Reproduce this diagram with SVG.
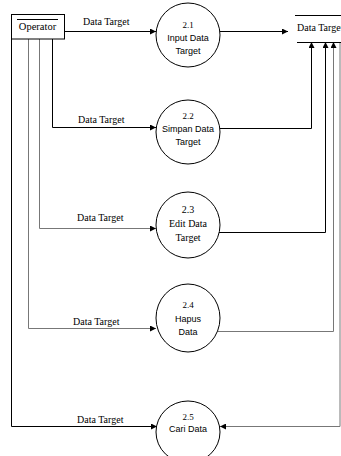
<svg xmlns="http://www.w3.org/2000/svg" width="341" height="456" viewBox="0 0 341 456">
<defs>
<marker id="ah" viewBox="0 0 6 6" refX="6" refY="3" markerWidth="6" markerHeight="6" markerUnits="userSpaceOnUse" orient="auto">
<path d="M0,0 L6,3 L0,6 z" fill="#000"/>
</marker>
</defs>
<style>
.ln{fill:none;stroke:#000;stroke-width:1}
.gr{fill:none;stroke:#777;stroke-width:1}
.p{fill:#fff;stroke:#000;stroke-width:1}
.s{font-family:"Liberation Sans",Arial,sans-serif;font-size:9px;fill:#000;text-anchor:middle}
.t{font-family:"Liberation Serif","Times New Roman",serif;font-size:10px;fill:#000;text-anchor:middle}
.lb{font-family:"Liberation Serif","Times New Roman",serif;font-size:10px;fill:#000}
</style>
<rect width="341" height="456" fill="#fff"/>
<g id="connectors">
<path class="ln" d="M65,31.5 H156" marker-end="url(#ah)"/>
<path class="ln" d="M52.5,39 V127.5 H156" marker-end="url(#ah)"/>
<path class="gr" d="M39.5,39 V228.5 H156" marker-end="url(#ah)"/>
<path class="gr" d="M28.5,39 V328.5 H156" marker-end="url(#ah)"/>
<path class="ln" d="M11.5,39 V426.5 H157" marker-end="url(#ah)"/>
<path class="ln" d="M220,31.5 H288" marker-end="url(#ah)"/>
<path class="ln" d="M220,128.5 H311.5 V42" marker-end="url(#ah)"/>
<path class="ln" d="M219,232.5 H325.5 V42" marker-end="url(#ah)"/>
<path class="gr" d="M218,331.5 H333.5 V42" marker-end="url(#ah)"/>
<path class="gr" d="M340,42 V426.5 H220" marker-end="url(#ah)"/>
<text class="lb" x="83" y="25">Data Target</text>
<text class="lb" x="78" y="123">Data Target</text>
<text class="lb" x="77" y="221">Data Target</text>
<text class="lb" x="73" y="325">Data Target</text>
<text class="lb" x="77" y="423">Data Target</text>
</g>
<g id="operator">
<rect class="p" x="11.5" y="14.5" width="53" height="24.5"/>
<line class="ln" x1="17" y1="19.5" x2="58" y2="19.5"/>
<text class="t" x="37.5" y="30" style="font-size:10.5px">Operator</text>
</g>
<g id="datastore">
<line class="ln" x1="295" y1="15.5" x2="341" y2="15.5"/>
<line class="ln" x1="297" y1="42.5" x2="341" y2="42.5"/>
<text class="lb" x="297" y="31">Data Target</text>
</g>
<g id="p21">
<ellipse class="p" cx="188" cy="35" rx="32" ry="32"/>
<text class="t" x="188" y="28" style="font-size:9px">2.1</text>
<text class="s" x="188" y="41">Input Data</text>
<text class="s" x="188" y="54">Target</text>
</g>
<g id="p22">
<ellipse class="p" cx="188" cy="132" rx="32" ry="32"/>
<text class="t" x="188" y="119" style="font-size:9px">2.2</text>
<text class="s" x="188" y="132">Simpan Data</text>
<text class="s" x="188" y="145">Target</text>
</g>
<g id="p23">
<ellipse class="p" cx="188" cy="225" rx="32" ry="33"/>
<text class="t" x="188" y="213">2.3</text>
<text class="t" x="188" y="227">Edit Data</text>
<text class="t" x="188" y="241">Target</text>
</g>
<g id="p24">
<ellipse class="p" cx="188" cy="318" rx="32" ry="34"/>
<text class="t" x="188" y="308" style="font-size:9px">2.4</text>
<text class="s" x="188" y="322">Hapus</text>
<text class="s" x="188" y="335">Data</text>
</g>
<g id="p25">
<ellipse class="p" cx="188" cy="432" rx="32" ry="31"/>
<text class="t" x="188" y="420" style="font-size:9px">2.5</text>
<text class="s" x="188" y="432">Cari Data</text>
</g>
</svg>
